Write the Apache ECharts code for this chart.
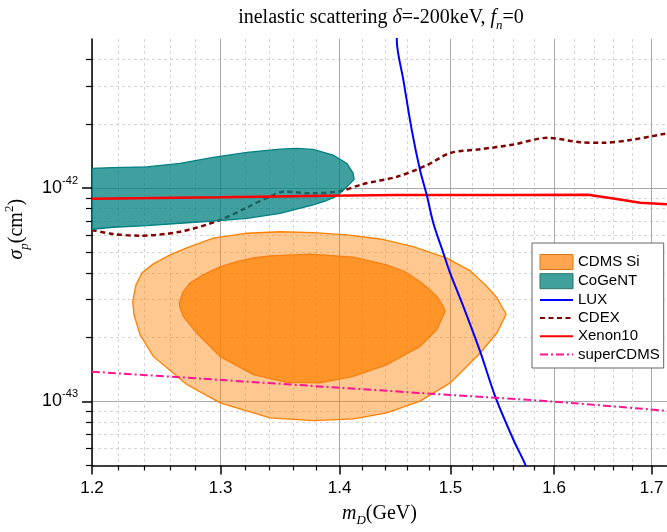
<!DOCTYPE html>
<html><head><meta charset="utf-8">
<script src="https://cdn.jsdelivr.net/npm/echarts@6/dist/echarts.min.js"></script>
<style>html,body{margin:0;padding:0;background:#fff}#c{width:667px;height:532px}</style>
</head><body><div id="c"></div>
<script>
// ---- tick values ----
const xMajorTicks = [1.2, 1.3, 1.4, 1.5, 1.6, 1.7];
const xMinorTicks = [1.22,1.24,1.26,1.28,1.32,1.34,1.36,1.38,1.42,1.44,1.46,1.48,1.52,1.54,1.56,1.58,1.62,1.64,1.66,1.68];
const yMajorTicks = [1e-43, 1e-42];
const yMinorTicks = [5e-44,6e-44,7e-44,8e-44,9e-44,2e-43,3e-43,4e-43,5e-43,6e-43,7e-43,8e-43,9e-43,2e-42,3e-42,4e-42,5e-42];

// ---- data: [m_D (GeV), sigma_p (cm^2)] ----
const cdmsSiOuter = [[1.2308,2.94e-43],[1.2333,3.52e-43],[1.2379,4.00e-43],[1.2467,4.41e-43],[1.2597,4.86e-43],[1.2729,5.24e-43],[1.294,5.83e-43],[1.3216,6.14e-43],[1.3492,6.24e-43],[1.3771,6.18e-43],[1.4065,6.03e-43],[1.4357,5.77e-43],[1.4655,5.31e-43],[1.4966,4.69e-43],[1.5185,4.09e-43],[1.5337,3.48e-43],[1.5439,3.06e-43],[1.5529,2.56e-43],[1.5439,2.09e-43],[1.528,1.684e-43],[1.4997,1.22e-43],[1.4718,1.002e-43],[1.4417,8.82e-44],[1.412,8.27e-44],[1.3774,8.12e-44],[1.3407,8.36e-44],[1.2996,9.83e-44],[1.2729,1.198e-43],[1.2467,1.624e-43],[1.2364,2.05e-43],[1.2318,2.54e-43]];
const cdmsSiInner = [[1.267,2.89e-43],[1.27,3.26e-43],[1.2755,3.59e-43],[1.286,3.92e-43],[1.2996,4.27e-43],[1.3132,4.52e-43],[1.3268,4.70e-43],[1.3407,4.81e-43],[1.3745,4.90e-43],[1.412,4.74e-43],[1.4417,4.36e-43],[1.4582,4.05e-43],[1.4718,3.64e-43],[1.4811,3.33e-43],[1.4873,3.10e-43],[1.4922,2.84e-43],[1.495,2.65e-43],[1.4913,2.40e-43],[1.4873,2.17e-43],[1.4718,1.809e-43],[1.4417,1.485e-43],[1.412,1.309e-43],[1.3831,1.22e-43],[1.3548,1.227e-43],[1.3268,1.333e-43],[1.2996,1.624e-43],[1.2808,2.09e-43],[1.2702,2.50e-43],[1.2676,2.74e-43]];
const cogent = [[1.2,1.236e-42],[1.2158,1.247e-42],[1.2415,1.258e-42],[1.2676,1.305e-42],[1.294,1.392e-42],[1.3216,1.469e-42],[1.3492,1.522e-42],[1.3632,1.534e-42],[1.3771,1.518e-42],[1.3943,1.427e-42],[1.4063,1.305e-42],[1.4118,1.172e-42],[1.4127,1.098e-42],[1.4063,1.014e-42],[1.3975,9.17e-43],[1.3873,8.69e-43],[1.3771,8.33e-43],[1.3492,7.61e-43],[1.3216,7.21e-43],[1.2996,7.03e-43],[1.2676,6.84e-43],[1.2415,6.66e-43],[1.2158,6.55e-43],[1.2,6.41e-43]];
const lux = [[1.451,5.49e-42],[1.4507,4.93e-42],[1.4567,3.20e-42],[1.4643,1.868e-42],[1.4718,1.214e-42],[1.478,9.27e-43],[1.4841,6.84e-43],[1.4934,4.95e-43],[1.4997,3.99e-43],[1.5121,2.78e-43],[1.528,1.709e-43],[1.5423,1.055e-43],[1.5598,6.62e-44],[1.5714,5.06e-44],[1.574,4.6e-44]];
const cdex = [[1.2,6.36e-43],[1.2158,6.09e-43],[1.2364,5.98e-43],[1.2676,6.24e-43],[1.2996,7.08e-43],[1.3216,8.12e-43],[1.3432,9.27e-43],[1.3517,9.61e-43],[1.3771,9.45e-43],[1.4004,9.68e-43],[1.4206,1.044e-42],[1.4509,1.13e-42],[1.4781,1.28e-42],[1.4997,1.46e-42],[1.528,1.52e-42],[1.5597,1.60e-42],[1.5931,1.72e-42],[1.626,1.64e-42],[1.6495,1.63e-42],[1.6776,1.68e-42],[1.7121,1.79e-42],[1.72,1.82e-42]];
const xenon10 = [[1.2,8.9e-43],[1.3,9.05e-43],[1.39,9.2e-43],[1.45,9.27e-43],[1.55,9.27e-43],[1.634,9.3e-43],[1.66,8.93e-43],[1.688,8.54e-43],[1.72,8.38e-43]];
const superCDMS = [[1.2,1.377e-43],[1.3,1.26e-43],[1.4,1.158e-43],[1.5,1.071e-43],[1.6,9.96e-44],[1.72,8.99e-44]];

// y values are handed to the log axis in units of 1e-43 cm^2 (labels show cm^2 powers)
const Y_UNIT = 1e-43;
const SANS = 'Liberation Sans';
const SERIF = 'Liberation Serif';

function toAxis(pts) { return pts.map(function (p) { return [p[0], p[1] / Y_UNIT]; }); }
function regionSeries(name, pts, fill, stroke, z) {
  const d = toAxis(pts);
  return {
    type: 'custom', name: name, z: z, clip: true, silent: true,
    xAxisIndex: 0, yAxisIndex: 0,
    data: [d[0]],
    renderItem: function (params, api) {
      return {
        type: 'polygon',
        shape: { points: d.map(function (p) { return api.coord(p); }) },
        style: { fill: fill, stroke: stroke, lineWidth: 1.3 }
      };
    }
  };
}
function lineSeries(name, pts, color, width, type, z, smooth) {
  return {
    type: 'line', name: name, z: z, data: toAxis(pts), symbol: 'none', smooth: smooth, clip: true, silent: true,
    xAxisIndex: 0, yAxisIndex: 0,
    lineStyle: { color: color, width: width, type: type }, itemStyle: { color: color }
  };
}

const chart = echarts.init(document.getElementById('c'), null, { renderer: 'canvas' });
const xExt = [1.2, 1.7164];
const yExt = [5e-44, 5e-42];
const majorGrid = { show: true, lineStyle: { color: '#a9a9a9', width: 1, type: 'solid' } };
const minorGrid = { show: true, lineStyle: { color: '#d4d4d4', width: 1, type: [3, 3] } };
const noSym = { color: 'rgba(0,0,0,0)', borderColor: 'rgba(0,0,0,0)', borderWidth: 0, opacity: 0 };
const serifRich = {
  n: { fontFamily: SERIF, fontSize: 20, lineHeight: 20, color: '#000', fontWeight: 'normal', verticalAlign: 'top' },
  i: { fontFamily: SERIF, fontSize: 20, lineHeight: 20, color: '#000', fontWeight: 'normal', fontStyle: 'italic', verticalAlign: 'top' },
  s: { fontFamily: SERIF, fontSize: 13, lineHeight: 13, color: '#000', fontWeight: 'normal', fontStyle: 'italic', verticalAlign: 'top', padding: [11, 0, 0, 0] }
};

chart.setOption({
  animation: false,
  backgroundColor: '#fff',
  title: {
    text: '{n|inelastic scattering }{i|δ}{n|=-200keV, }{i|f}{s|n}{n|=0}',
    left: 376, top: 3, textAlign: 'center',
    textStyle: { fontWeight: 'normal', rich: serifRich }
  },
  grid: { left: 92, right: 0, top: 39, bottom: 66.5, containLabel: false, outerBoundsMode: 'none' },
  legend: {
    orient: 'vertical', left: 532, top: 243, padding: [11, 4, 6, 7],
    itemWidth: 33, itemHeight: 15, itemGap: 3.2,
    backgroundColor: '#fff', borderColor: '#666', borderWidth: 1, borderRadius: 0,
    textStyle: { fontFamily: SANS, fontSize: 15, color: '#000' },
    selectedMode: false,
    data: [
      { name: 'CDMS Si', icon: 'rect', itemStyle: { color: '#ffa54f', borderColor: '#d9791a', borderWidth: 1 } },
      { name: 'CoGeNT', icon: 'rect', itemStyle: { color: '#40a09b', borderColor: '#2f6f6c', borderWidth: 1 } },
      { name: 'LUX', itemStyle: noSym }, { name: 'CDEX', itemStyle: noSym },
      { name: 'Xenon10', itemStyle: noSym }, { name: 'superCDMS', itemStyle: noSym }
    ]
  },
  xAxis: [
    {
      type: 'log', min: xExt[0], max: xExt[1], position: 'bottom',
      name: '{i|m}{s|D}{n|(GeV)}', nameLocation: 'middle', nameGap: 38,
      nameTextStyle: { rich: serifRich },
      axisLine: { show: true, onZero: false, lineStyle: { color: '#000', width: 1.5 } },
      axisTick: { show: true, length: 9, lineStyle: { color: '#000', width: 1.5 }, customValues: xMajorTicks },
      axisLabel: { show: true, margin: 14, fontFamily: SANS, fontSize: 17, color: '#000', customValues: xMajorTicks,
        formatter: function (v) { return Number(v).toFixed(1); } },
      splitLine: majorGrid
    },
    {
      type: 'log', min: xExt[0], max: xExt[1], position: 'bottom',
      axisLine: { show: false },
      axisTick: { show: true, length: 5, lineStyle: { color: '#000', width: 1.2 }, customValues: xMinorTicks },
      axisLabel: { show: false },
      splitLine: minorGrid
    }
  ],
  yAxis: [
    {
      type: 'log', min: yExt[0] / Y_UNIT, max: yExt[1] / Y_UNIT, position: 'left',
      name: '{i|σ}{s|p}{n|(cm}{u|2}{n|)}', nameLocation: 'middle', nameGap: 59,
      nameTextStyle: { padding: [0, 0, 0, 46], rich: {
        n: { fontFamily: SERIF, fontSize: 20, lineHeight: 20, color: '#000', verticalAlign: 'top', padding: [4, 0, 0, 0] },
        i: { fontFamily: SERIF, fontSize: 20, lineHeight: 20, color: '#000', fontStyle: 'italic', verticalAlign: 'top', padding: [4, 0, 0, 0] },
        s: { fontFamily: SERIF, fontSize: 13, lineHeight: 13, color: '#000', fontStyle: 'italic', verticalAlign: 'top', padding: [15, 0, 0, 0] },
        u: { fontFamily: SERIF, fontSize: 13, lineHeight: 13, color: '#000', verticalAlign: 'top' }
      } },
      axisLine: { show: true, onZero: false, lineStyle: { color: '#000', width: 1.5 } },
      axisTick: { show: true, length: 10, lineStyle: { color: '#000', width: 1.5 }, customValues: yMajorTicks.map(function (v) { return v / Y_UNIT; }) },
      axisLabel: { show: true, margin: 14, customValues: yMajorTicks.map(function (v) { return v / Y_UNIT; }),
        formatter: function (v) { return '{b|10}{s|' + Math.round(Math.log10(v * Y_UNIT)) + '}'; },
        rich: {
          b: { fontFamily: SANS, fontSize: 18, lineHeight: 18, color: '#000', verticalAlign: 'middle' },
          s: { fontFamily: SANS, fontSize: 11, lineHeight: 11, color: '#000', verticalAlign: 'middle', padding: [0, 0, 14, 0] }
        } },
      splitLine: majorGrid
    },
    {
      type: 'log', min: yExt[0] / Y_UNIT, max: yExt[1] / Y_UNIT, position: 'left',
      axisLine: { show: false },
      axisTick: { show: true, length: 6, lineStyle: { color: '#000', width: 1.2 }, customValues: yMinorTicks.map(function (v) { return v / Y_UNIT; }) },
      axisLabel: { show: false },
      splitLine: minorGrid
    }
  ],
  series: [
    regionSeries('CDMS Si', cdmsSiOuter, 'rgba(255,128,0,0.43)', '#ff8000', 2),
    regionSeries('CDMS Si', cdmsSiInner, 'rgba(255,128,0,0.72)', '#f58010', 3),
    lineSeries('CDEX', cdex, '#800000', 2.5, [5, 3.5], 4, 0.3),
    regionSeries('CoGeNT', cogent, 'rgba(0,128,128,0.75)', '#008080', 5),
    lineSeries('Xenon10', xenon10, '#ff0000', 2.5, 'solid', 6, false),
    lineSeries('LUX', lux, '#0000ff', 2, 'solid', 7, 0.3),
    lineSeries('superCDMS', superCDMS, '#ff1493', 2, [8, 3, 2, 3], 8, 0.3)
  ]
});
</script>
</body></html>
